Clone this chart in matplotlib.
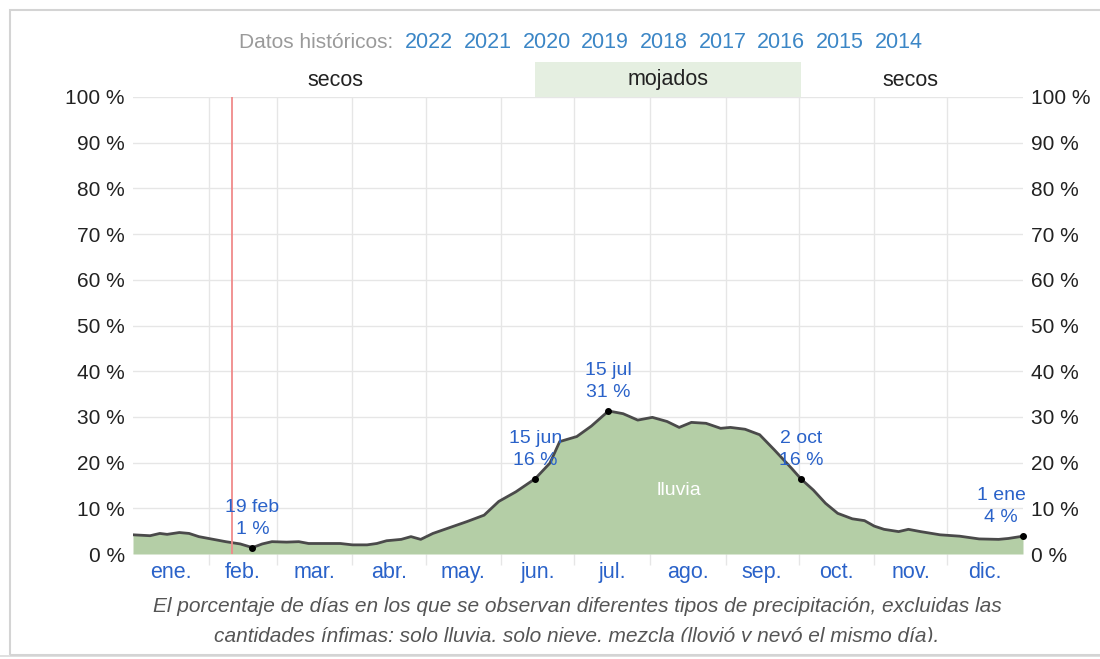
import matplotlib.pyplot as plt
from matplotlib.patches import Rectangle
from matplotlib.transforms import blended_transform_factory

plt.rcParams['font.family'] = ['Liberation Sans', 'DejaVu Sans']

# day of year vs percentage of days with rain
days = [0, 7, 11, 14, 19, 23, 27, 33, 38, 44, 49, 53, 57, 63, 68, 72, 80, 85, 90, 96,
        100, 104, 110, 114, 118, 123, 130, 137, 144, 150, 157, 165, 171, 175, 182, 188,
        195, 201, 207, 213, 219, 224, 229, 235, 241, 245, 251, 257, 263, 270, 274, 279,
        284, 289, 295, 300, 304, 308, 314, 318, 323, 331, 339, 347, 355, 359, 365]
rain = [4.2, 4.0, 4.5, 4.3, 4.7, 4.5, 3.8, 3.2, 2.7, 2.2, 1.4, 2.2, 2.7, 2.6, 2.7, 2.3,
        2.3, 2.3, 2.0, 2.0, 2.3, 2.9, 3.2, 3.8, 3.2, 4.5, 5.8, 7.1, 8.5, 11.5, 13.6, 16.5,
        19.9, 24.6, 25.7, 28.0, 31.3, 30.7, 29.3, 29.9, 29.0, 27.7, 28.8, 28.6, 27.5, 27.7,
        27.3, 26.1, 22.8, 18.8, 16.4, 14.0, 11.1, 8.9, 7.7, 7.3, 6.1, 5.4, 4.9, 5.4, 4.9,
        4.2, 3.9, 3.3, 3.2, 3.4, 3.9]

month_starts = [0, 31, 59, 90, 120, 151, 181, 212, 243, 273, 304, 334, 365]
month_names = ['ene.', 'feb.', 'mar.', 'abr.', 'may.', 'jun.', 'jul.', 'ago.',
               'sep.', 'oct.', 'nov.', 'dic.']
years = ['2022', '2021', '2020', '2019', '2018', '2017', '2016', '2015', '2014']

# annotated points: day, value, label
ann_days = [49, 165, 195, 274, 365]
ann_vals = [1.4, 16.5, 31.3, 16.4, 3.9]
ann_text = ['19 feb\n1 %', '15 jun\n16 %', '15 jul\n31 %', '2 oct\n16 %', '1 ene\n4 %']
ann_dx = [0, 0, 0, 0, -22]

wet_start, wet_end = 165, 274
today = 40.8

blue = '#2a62c9'
link = '#3b86c6'
grid = '#e6e6e6'

fig = plt.figure(figsize=(11, 6.59), dpi=100)
ax = fig.add_axes([133/1100, 105/659, 890/1100, 457/659])

ax.fill_between(days, rain, 0, color='#b4cea6', lw=0, zorder=2)
ax.plot(days, rain, color='#4a4a4a', lw=2, zorder=3)
ax.axvline(today, color='#f08a8a', lw=1.3, zorder=4)

ax.set_xlim(0, 365)
ax.set_ylim(0, 100)
ax.set_yticks(range(0, 101, 10))
ax.set_yticklabels([f'{v} %' for v in range(0, 101, 10)], fontsize=15, color='#222222')
ax.tick_params(axis='y', length=0, pad=6, labelright=True)
ax.set_xticks(month_starts[1:-1])
ax.set_xticklabels([])
ax.tick_params(axis='x', length=8, color=grid, width=1)
ax.grid(True, color=grid, lw=1, zorder=0)
for s in ax.spines.values():
    s.set_visible(False)

tr = blended_transform_factory(ax.transData, ax.transAxes)
for i, name in enumerate(month_names):
    mid = (month_starts[i] + month_starts[i + 1]) / 2
    ax.text(mid, -0.04, name, transform=tr, ha='center', va='center', fontsize=15.5, color=blue)

ax.scatter(ann_days, ann_vals, s=16, color='black', zorder=5, clip_on=False)
for d, v, t, dx in zip(ann_days, ann_vals, ann_text, ann_dx):
    ax.annotate(t, (d, v), xytext=(dx * 0.72, 7), textcoords='offset points', ha='center',
                va='bottom', fontsize=14, color=blue, linespacing=1.4, zorder=6)

ax.text(224, 13.8, 'lluvia', ha='center', va='center', fontsize=14, color='white', zorder=6)

# wet / dry season band above the plot
ax.add_patch(Rectangle((wet_start, 1.0), wet_end - wet_start, 35/457, transform=tr,
                       facecolor='#e5efe1', edgecolor='none', clip_on=False))
ax.text((wet_start + wet_end) / 2, 1 + 17/457, 'mojados', transform=tr, ha='center',
        va='center', fontsize=15.5, color='#222222')
ax.text(83, 1 + 17/457, 'secos', transform=tr, ha='center', va='center', fontsize=15.5, color='#222222')
ax.text(319, 1 + 17/457, 'secos', transform=tr, ha='center', va='center', fontsize=15.5, color='#222222')

# historical data links
fig.text(393/1100, 1 - 42/659, 'Datos históricos:', ha='right', va='center', fontsize=15, color='#9a9a9a')
xpos = 405
for y in years:
    fig.text(xpos/1100, 1 - 42/659, y, ha='left', va='center', fontsize=15.5, color=link)
    xpos += 58.7

fig.text(577/1100, 1 - 607/659,
         'El porcentaje de días en los que se observan diferentes tipos de precipitación, excluidas las',
         ha='center', va='center', fontsize=15, color='#555555', style='italic')
fig.text(577/1100, 1 - 637/659,
         'cantidades ínfimas: solo lluvia, solo nieve, mezcla (llovió y nevó el mismo día).',
         ha='center', va='center', fontsize=15, color='#555555', style='italic')

# screenshot frame, cutting the caption's second line
fig.patches.append(Rectangle((0, 0), 1, 17/659, transform=fig.transFigure,
                             facecolor='white', edgecolor='none', zorder=10))
fig.patches.append(Rectangle((0, 2/659), 1, 2.5/659, transform=fig.transFigure,
                             facecolor='#e0e0e0', edgecolor='none', zorder=11))
fig.patches.append(Rectangle((10/1100, 4.5/659), 1100/1100, 645/659, transform=fig.transFigure,
                             facecolor='none', edgecolor='#d4d4d4', lw=1.5, zorder=11))

fig.savefig('out.png', dpi=100)
